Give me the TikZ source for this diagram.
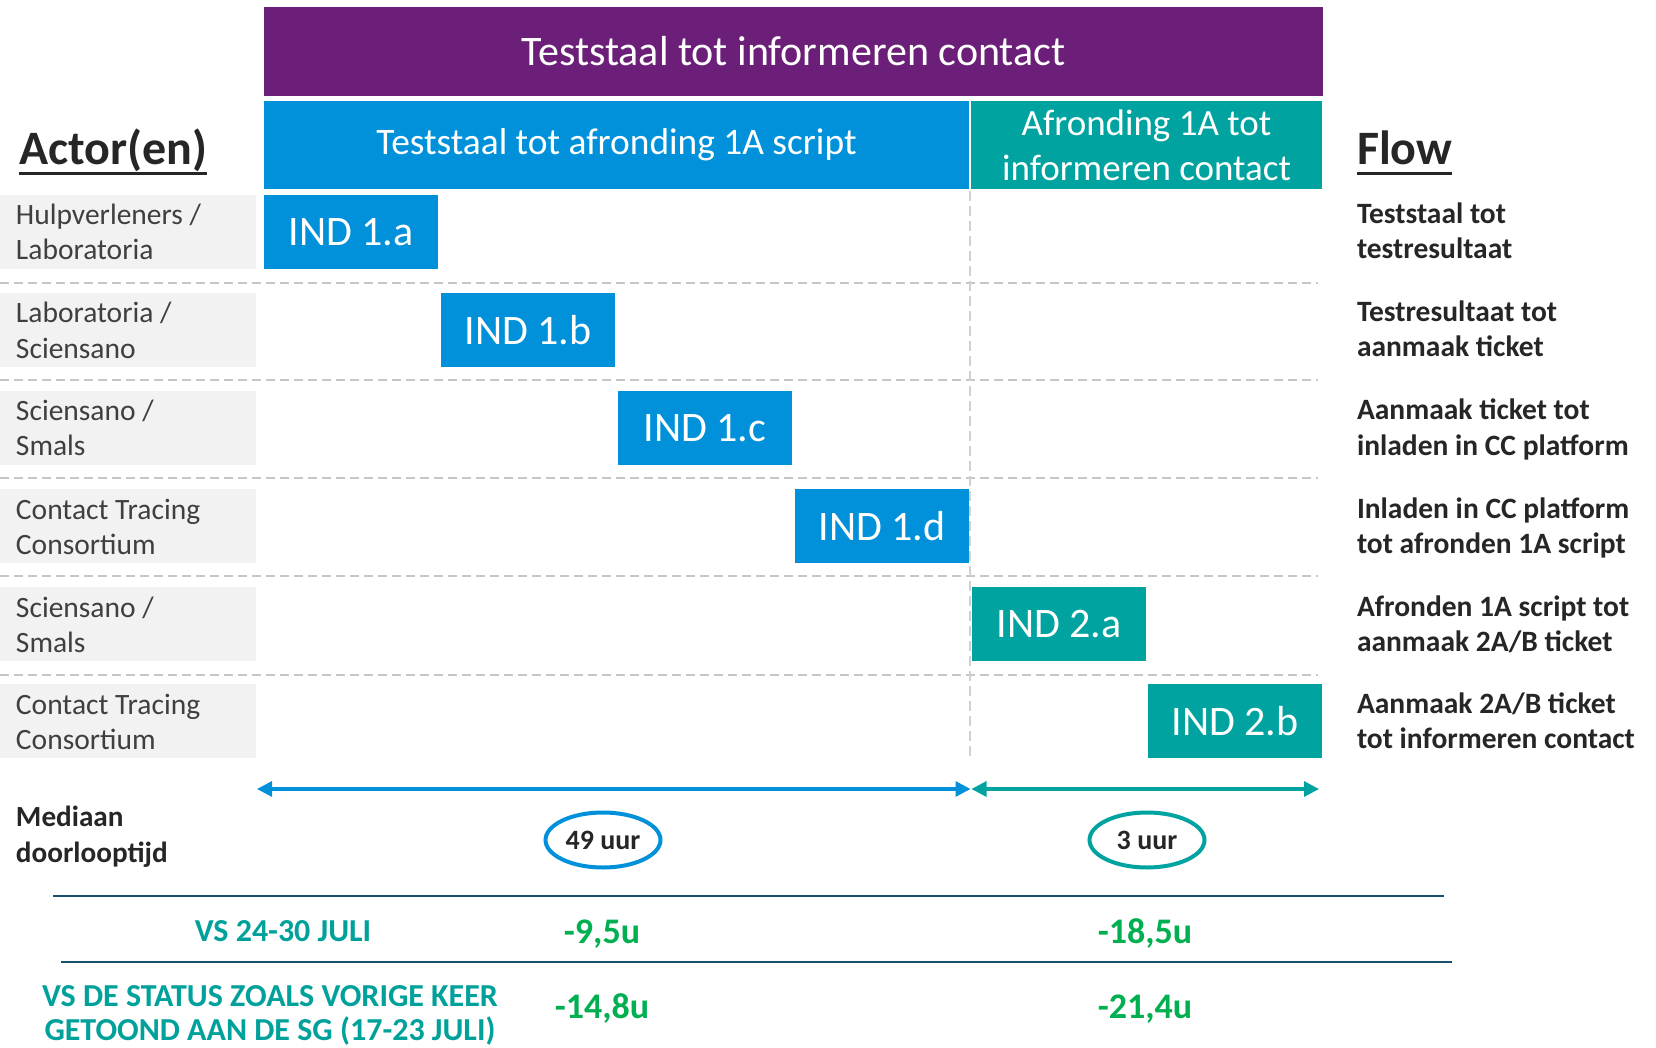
\documentclass[tikz,border=0pt]{standalone}
\usepackage{fontspec}
\setmainfont{Carlito}
\usetikzlibrary{arrows.meta,shapes.geometric}
\definecolor{purp}{HTML}{6C1F78}
\definecolor{iblue}{HTML}{0091DA}
\definecolor{iteal}{HTML}{00A39F}
\definecolor{rowgray}{HTML}{F2F2F2}
\definecolor{actgray}{HTML}{3F3F3F}
\definecolor{darktxt}{HTML}{262626}
\definecolor{sepgray}{HTML}{C6C6C6}
\definecolor{vsteal}{HTML}{00A19B}
\definecolor{okgreen}{HTML}{00B050}
\definecolor{rulecol}{HTML}{1B4F6E}
\newcommand\ulbar[1]{\setbox0=\hbox{#1}\rlap{\rule[-5pt]{\wd0}{1.6pt}}\box0}
\begin{document}
\begin{tikzpicture}[x=0.5pt,y=-0.5pt,
  every node/.style={inner sep=0pt,outer sep=0pt},
  hdr/.style={rectangle,text=white,align=center},
  indbox/.style={rectangle,minimum width=87pt,minimum height=37pt,text=white,font=\fontsize{21pt}{21pt}\selectfont},
  actorbox/.style={rectangle,fill=rowgray,minimum width=128pt,minimum height=37pt},
  actortxt/.style={anchor=base west,align=left,text=actgray,font=\fontsize{14.75pt}{17.5pt}\selectfont},
  flowtxt/.style={anchor=base west,align=left,text=darktxt,font=\fontsize{14.75pt}{17.5pt}\selectfont\bfseries},
  titletxt/.style={anchor=base west,text=darktxt,font=\fontsize{24pt}{24pt}\selectfont\bfseries},
  sepline/.style={draw=sepgray,line width=1pt,dash pattern=on 4.5pt off 2.5pt},
  vsep/.style={draw=sepgray!80,line width=1pt,dash pattern=on 5pt off 2.5pt},
  spanarrow/.style={line width=1.6pt,{Triangle[length=7.5pt,width=7.5pt]}-{Triangle[length=7.5pt,width=7.5pt]}},
  durell/.style={ellipse,line width=2pt,minimum width=57.5pt,minimum height=27.5pt,text=darktxt,font=\fontsize{14pt}{14pt}\selectfont\bfseries},
  vstxt/.style={anchor=base,align=center,text=vsteal,font=\fontsize{16pt}{17pt}\selectfont\bfseries},
  deltatxt/.style={anchor=base,text=okgreen,font=\fontsize{18pt}{18pt}\selectfont\bfseries},
  hrule/.style={draw=rulecol,line width=1.2pt}
]
\useasboundingbox (0,0) rectangle (1656,1048);
\fill[white] (0,0) rectangle (1656,1048);

% headers
\node[hdr,fill=purp,minimum width=529.5pt,minimum height=44.5pt,font=\fontsize{21pt}{21pt}\selectfont] (htop) at (793.5,51.5) {Teststaal tot informeren contact};
\node[hdr,fill=iblue,minimum width=352.5pt,minimum height=44pt,font=\fontsize{18.7pt}{18.7pt}\selectfont] (hblue) at (616.5,145) {Teststaal tot afronding 1A script};
\node[hdr,fill=iteal,minimum width=175.5pt,minimum height=44pt,font=\fontsize{18.5pt}{22.5pt}\selectfont] (hteal) at (1146.5,145) {Afronding 1A tot\\informeren contact};

% titles
\node[titletxt] (tactor) at (19,165) {\ulbar{Actor(en)}};
\node[titletxt] (tflow) at (1357,165) {\ulbar{Flow}};

% separators
\foreach \yy in {283,380,478,576,675} {\draw[sepline] (0,\yy) -- (1318,\yy);}
\draw[vsep] (970,191) -- (970,760);

% actor boxes
\node[actorbox] (g1) at (128,232) {};
\node[actorbox] (g2) at (128,330) {};
\node[actorbox] (g3) at (128,428) {};
\node[actorbox] (g4) at (128,526) {};
\node[actorbox] (g5) at (128,624) {};
\node[actorbox] (g6) at (128,721) {};
\node[actortxt] (a1) at (16,260) {Hulpverleners /\\Laboratoria};
\node[actortxt] (a2) at (16,358) {Laboratoria /\\Sciensano};
\node[actortxt] (a3) at (16,456) {Sciensano /\\Smals};
\node[actortxt] (a4) at (16,554) {Contact Tracing\\Consortium};
\node[actortxt] (a5) at (16,652) {Sciensano /\\Smals};
\node[actortxt] (a6) at (16,749) {Contact Tracing\\Consortium};

% indicator boxes
\node[indbox,fill=iblue] (i1a) at (351,232) {IND 1.a};
\node[indbox,fill=iblue] (i1b) at (528,330) {IND 1.b};
\node[indbox,fill=iblue] (i1c) at (705,428) {IND 1.c};
\node[indbox,fill=iblue] (i1d) at (882,526) {IND 1.d};
\node[indbox,fill=iteal] (i2a) at (1059,624) {IND 2.a};
\node[indbox,fill=iteal] (i2b) at (1235,721) {IND 2.b};

% flow texts
\node[flowtxt] (f1) at (1357,259) {Teststaal tot\\testresultaat};
\node[flowtxt] (f2) at (1357,357) {Testresultaat tot\\aanmaak ticket};
\node[flowtxt] (f3) at (1357,455) {Aanmaak ticket tot\\inladen in CC platform};
\node[flowtxt] (f4) at (1357,553) {Inladen in CC platform\\tot afronden 1A script};
\node[flowtxt] (f5) at (1357,651) {Afronden 1A script tot\\aanmaak 2A/B ticket};
\node[flowtxt] (f6) at (1357,748) {Aanmaak 2A/B ticket\\tot informeren contact};

% span arrows
\coordinate (bl) at (257,789);
\coordinate (br) at (970.5,789);
\coordinate (tl) at (971.5,789);
\coordinate (tr) at (1319,789);
\draw[spanarrow,draw=iblue,fill=iblue] (bl) -- (br);
\draw[spanarrow,draw=iteal,fill=iteal] (tl) -- (tr);

% median
\node[anchor=base west,align=left,text=darktxt,font=\fontsize{14.6pt}{18pt}\selectfont\bfseries] (med) at (16,862) {Mediaan\\doorlooptijd};
\node[durell,draw=iblue] (e1) at (603,840) {49 uur};
\node[durell,draw=iteal] (e2) at (1147,840) {3 uur};

% rules
\coordinate (r1l) at (53,896);
\coordinate (r1r) at (1444,896);
\coordinate (r2l) at (61,962);
\coordinate (r2r) at (1452,962);
\draw[hrule] (r1l) -- (r1r);
\draw[hrule] (r2l) -- (r2r);

% comparisons
\node[vstxt] (vs1) at (283,941) {VS 24-30 JULI};
\node[deltatxt] (d1) at (602,943) {-9,5u};
\node[deltatxt] (d2) at (1145,943) {-18,5u};
\node[vstxt] (vs2) at (270,1040) {VS DE STATUS ZOALS VORIGE KEER\\GETOOND AAN DE SG (17-23 JULI)};
\node[deltatxt] (d3) at (602,1018) {-14,8u};
\node[deltatxt] (d4) at (1145,1018) {-21,4u};
\end{tikzpicture}
\end{document}
